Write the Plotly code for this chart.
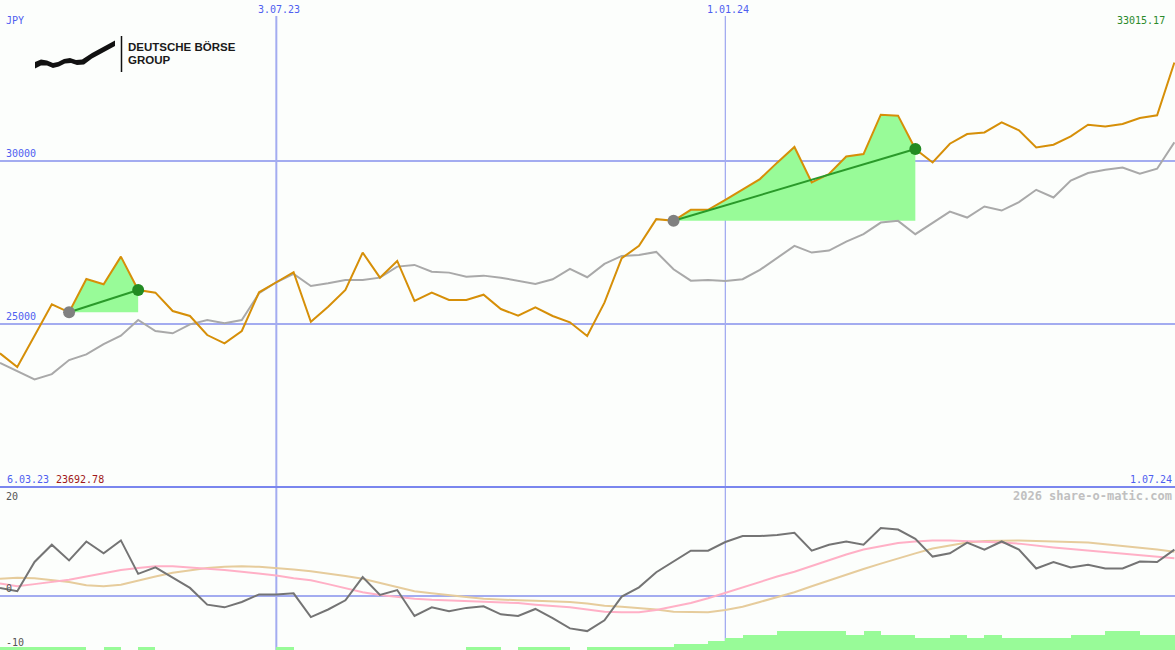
import pandas as pd
import plotly.graph_objects as go

# ---------------- data ----------------
dates = pd.date_range("2023-03-13", periods=69, freq="7D")

price = [24111, 23692.78, 24650, 25613, 25368, 26389, 26227, 27073, 26052, 25969,
         25408, 25255, 24672, 24417, 24795, 25981, 26288, 26595, 25080, 25540,
         26052, 27196, 26429, 26941, 25715, 25969, 25745, 25745, 25908, 25469,
         25264, 25521, 25255, 25061, 24641, 25662, 27024, 27401, 28220, 28170,
         28506, 28506, 28812, 29128, 29447, 29950, 30429, 29343, 29601, 30140,
         30214, 31419, 31389, 30367, 29956, 30530, 30827, 30876, 31183, 30938,
         30416, 30499, 30754, 31113, 31060, 31134, 31318, 31398, 33015.17]

bench = [23822, 23577, 23313, 23476, 23905, 24080, 24396, 24650, 25132, 24795,
         24724, 25000, 25132, 25031, 25132, 25951, 26288, 26543, 26175, 26257,
         26359, 26359, 26429, 26767, 26819, 26613, 26583, 26460, 26491, 26429,
         26337, 26236, 26380, 26696, 26441, 26849, 27095, 27125, 27217, 26687,
         26337, 26359, 26328, 26380, 26665, 27024, 27401, 27196, 27257, 27533,
         27760, 28116, 28168, 27760, 28098, 28453, 28269, 28607, 28484, 28742,
         29119, 28883, 29404, 29631, 29732, 29803, 29610, 29763, 30570]

momentum = [1.5, 0.9, 6.3, 9.5, 6.6, 10.1, 7.9, 10.3, 4.1, 5.3,
            3.4, 1.5, -1.6, -2.1, -1.1, 0.3, 0.3, 0.5, -3.9, -2.5,
            -0.8, 3.5, 0.2, 1.1, -3.7, -2.1, -2.8, -2.2, -1.9, -3.4,
            -3.7, -2.4, -4.1, -6.0, -6.5, -4.5, -0.1, 1.6, 4.4, 6.4,
            8.4, 8.4, 10.0, 11.1, 11.1, 11.3, 11.7, 8.4, 9.5, 10.1,
            9.5, 12.6, 12.3, 10.6, 7.3, 7.9, 9.9, 8.6, 10.1, 8.6,
            5.1, 6.3, 5.3, 5.8, 5.1, 5.1, 6.4, 6.3, 8.6]

pink_avg = [2.3, 1.8, 2.2, 2.6, 3.0, 3.6, 4.2, 4.8, 5.2, 5.5,
            5.5, 5.3, 5.0, 4.8, 4.5, 4.2, 3.8, 3.3, 2.9, 2.2,
            1.5, 0.7, 0.2, -0.2, -0.5, -0.7, -0.8, -0.9, -1.0, -1.1,
            -1.3, -1.6, -1.8, -2.1, -2.5, -2.9, -3.0, -3.0, -2.6, -2.0,
            -1.3, -0.4, 0.6, 1.6, 2.7, 3.6, 4.5, 5.6, 6.7, 7.7,
            8.6, 9.2, 9.8, 10.1, 10.3, 10.3, 10.2, 10.1, 9.9, 9.7,
            9.3, 9.0, 8.7, 8.4, 8.2, 7.9, 7.6, 7.3, 7.0]

tan_avg = [3.2, 3.4, 3.3, 3.0, 2.6, 2.0, 1.8, 2.1, 2.9, 3.6,
           4.3, 4.8, 5.2, 5.4, 5.5, 5.4, 5.2, 4.9, 4.6, 4.2,
           3.7, 3.2, 2.4, 1.6, 0.9, 0.5, 0.1, -0.2, -0.5, -0.7,
           -0.8, -0.9, -1.0, -1.1, -1.4, -1.8, -2.0, -2.2, -2.5, -2.9,
           -3.0, -3.0, -2.6, -2.0, -1.1, -0.2, 0.7, 1.8, 2.9, 4.0,
           5.0, 6.0, 7.0, 7.9, 8.8, 9.4, 9.9, 10.2, 10.3, 10.3,
           10.2, 10.1, 10.0, 9.9, 9.6, 9.3, 9.0, 8.6, 8.2]

strength = [0.6, 0.6, 0.6, 0.6, 0.6, 0, 0.6, 0, 0.6, 0,
            0, 0, 0, 0, 0, 0, 0.6, 0, 0, 0,
            0, 0, 0, 0, 0, 0, 0, 0.6, 0.6, 0,
            0.6, 0.6, 0.6, 0, 0.6, 0.6, 0.6, 0.6, 0.6, 1.15,
            1.15, 1.7, 2.3, 2.8, 2.8, 3.55, 3.55, 3.55, 3.55, 2.8,
            3.55, 2.8, 2.8, 2.3, 2.3, 2.8, 2.3, 2.8, 2.3, 2.3,
            2.3, 2.3, 2.8, 2.8, 3.55, 3.55, 2.8, 2.8, 2.8]

trend_segments = [(4, 8), (39, 53)]   # start / end week index of the marked up-trends

x_ticks = ["2023-07-03", "2024-01-01"]
x_tick_text = ["3.07.23", "1.01.24"]
y_ticks = [25000, 30000]
first_label, last_label = "6.03.23", "1.07.24"
currency = "JPY"

# ---------------- styling ----------------
W, H = 1175, 650
BG = "#fcfefc"
GRID = "#a3acf0"
BLUE_TXT = "#4f5ff0"
MONO = "DejaVu Sans Mono"


def px_x(p):
    return p / W


def px_y(p):
    return 1 - p / H


fig = go.Figure()

# trend fills
for s, e in trend_segments:
    xs = list(dates[s:e + 1]) + [dates[e], dates[s]]
    ys = price[s:e + 1] + [price[s], price[s]]
    fig.add_trace(go.Scatter(x=xs, y=ys, fill="toself", fillcolor="#98fb98",
                             line=dict(width=0), mode="lines", hoverinfo="skip"))

fig.add_trace(go.Scatter(x=dates, y=bench, mode="lines",
                         line=dict(color="#a9a9a9", width=2)))
fig.add_trace(go.Scatter(x=dates, y=price, mode="lines",
                         line=dict(color="#d68f08", width=2)))

for s, e in trend_segments:
    fig.add_trace(go.Scatter(x=[dates[s], dates[e]], y=[price[s], price[e]], mode="lines",
                             line=dict(color="#2a9a2a", width=2)))
    fig.add_trace(go.Scatter(x=[dates[s]], y=[price[s]], mode="markers",
                             marker=dict(color="#808080", size=12)))
    fig.add_trace(go.Scatter(x=[dates[e]], y=[price[e]], mode="markers",
                             marker=dict(color="#228b22", size=12)))

# lower panel
fig.add_trace(go.Bar(x=dates, y=strength, base=-10, yaxis="y2",
                     width=7 * 86400000, offset=0,
                     marker=dict(color="#98fb98", line=dict(width=0))))
fig.add_trace(go.Scatter(x=dates, y=tan_avg, yaxis="y2", mode="lines",
                         line=dict(color="#e6cc9c", width=2)))
fig.add_trace(go.Scatter(x=dates, y=pink_avg, yaxis="y2", mode="lines",
                         line=dict(color="#ffb0c6", width=2)))
fig.add_trace(go.Scatter(x=dates, y=momentum, yaxis="y2", mode="lines",
                         line=dict(color="#747474", width=2)))

shapes = []
# vertical date lines
for d, wdt in zip(x_ticks, [2, 1.3]):
    shapes.append(dict(type="line", xref="x", yref="paper", x0=d, x1=d,
                       y0=0, y1=px_y(16), line=dict(color=GRID, width=wdt), layer="below"))
# separator between panels
shapes.append(dict(type="line", xref="paper", yref="paper", x0=0, x1=1,
                   y0=px_y(487), y1=px_y(487), line=dict(color="#7a86ee", width=2)))

# logo ribbon
ribbon = [(35, 62), (41, 59.5), (47, 60.5), (53, 63), (58, 62), (64, 59), (70, 58),
          (76, 60), (82, 59.5), (92, 53), (104, 46.5), (115, 40.5),
          (115, 46), (104, 52), (92, 58.5), (84, 64.5), (77, 65), (71, 63), (65, 63.5),
          (59, 66.5), (53, 68), (47, 65.5), (41, 65.5), (35, 68.5)]
path = "M " + " L ".join(f"{px_x(a):.5f},{px_y(b):.5f}" for a, b in ribbon) + " Z"
shapes.append(dict(type="path", xref="paper", yref="paper", path=path,
                   fillcolor="#111111", line=dict(width=0)))
shapes.append(dict(type="line", xref="paper", yref="paper", x0=px_x(121.5), x1=px_x(121.5),
                   y0=px_y(36), y1=px_y(72), line=dict(color="#111111", width=1.5)))

ann = []


def add_text(text, x, y, color, size=10, xanchor="left", family=MONO, xref="paper",
             yref="paper", yanchor="middle", weight="normal", xshift=0, yshift=0):
    ann.append(dict(text=text, x=x, y=y, xref=xref, yref=yref, xanchor=xanchor,
                    yanchor=yanchor, showarrow=False, xshift=xshift, yshift=yshift,
                    font=dict(family=family, size=size, color=color, weight=weight),
                    borderpad=0))


add_text(currency, px_x(5), px_y(20), BLUE_TXT)
for d, t in zip(x_ticks, x_tick_text):
    add_text(t, d, px_y(9.5), BLUE_TXT, xanchor="center", xref="x", xshift=3)
for v in y_ticks:
    add_text(str(v), px_x(5), v, BLUE_TXT, yref="y", yanchor="bottom", yshift=1)
add_text(f"{max(price):.2f}", px_x(1166), px_y(21), "#2a8a2a", xanchor="right")
add_text(first_label, px_x(6), px_y(479), BLUE_TXT)
add_text(f"{min(price):.2f}", px_x(55), px_y(479), "#a01818")
add_text(last_label, px_x(1173), px_y(479), BLUE_TXT, xanchor="right")
add_text("2026 share-o-matic.com", px_x(1173), px_y(496), "#c0c0c0", size=12,
         xanchor="right", weight="bold")
add_text("20", px_x(5), px_y(496.5), "#555555")
add_text("0", px_x(5), px_y(588.5), "#555555")
add_text("-10", px_x(5), px_y(642), "#555555")
add_text("DEUTSCHE BÖRSE", px_x(127), px_y(47), "#1a1a1a", size=11.5,
         family="Liberation Sans", weight="bold")
add_text("GROUP", px_x(127), px_y(60.5), "#1a1a1a", size=11.5,
         family="Liberation Sans", weight="bold")

fig.update_layout(
    width=W, height=H,
    margin=dict(l=0, r=0, t=0, b=0),
    paper_bgcolor=BG, plot_bgcolor=BG,
    showlegend=False,
    bargap=0,
    hovermode=False,
    xaxis=dict(type="date", range=["2023-03-13", "2024-07-01 06:00"], showgrid=False,
               showticklabels=False, zeroline=False, showline=False, ticks=""),
    yaxis=dict(domain=[0.2498, 1], range=[20000, 34930], tickvals=y_ticks,
               showticklabels=False, gridcolor=GRID, gridwidth=2, zeroline=False,
               showline=False, ticks=""),
    yaxis2=dict(domain=[0, 0.2492], range=[-10, 20], tickvals=[0], showticklabels=False,
                gridcolor=GRID, gridwidth=2, zeroline=False, showline=False, ticks=""),
    shapes=shapes,
    annotations=ann,
)

fig.write_html("out.html", config={"displayModeBar": False},
               post_script="document.body.style.margin='0';document.body.style.padding='0';")
